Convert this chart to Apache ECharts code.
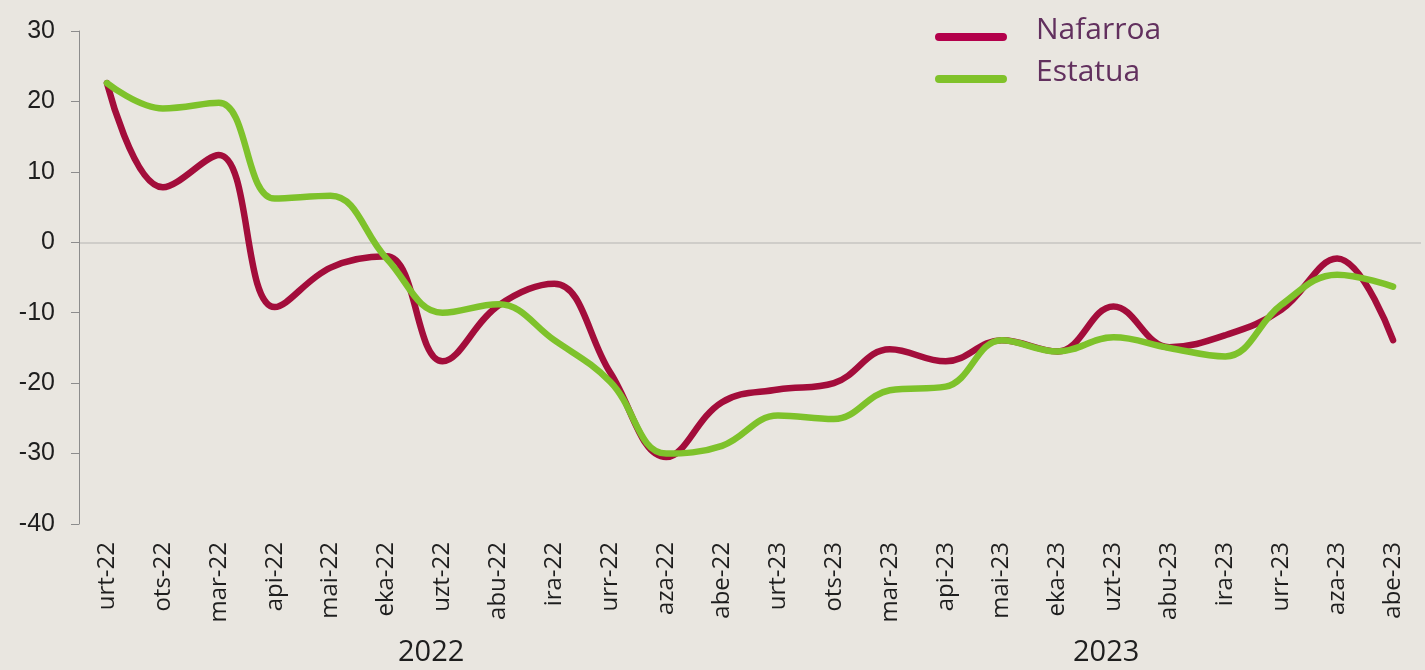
<!DOCTYPE html>
<html>
<head>
<meta charset="utf-8">
<script src="https://cdn.jsdelivr.net/npm/echarts@6/dist/echarts.min.js"></script>
<style>
  html, body { margin: 0; padding: 0; background: #e9e6e0; }
  #chart { width: 1425px; height: 670px; }
</style>
</head>
<body>
<div id="chart"></div>
<script>
// hilabeteak
const months = [
  'urt-22', 'ots-22', 'mar-22', 'api-22', 'mai-22', 'eka-22',
  'uzt-22', 'abu-22', 'ira-22', 'urr-22', 'aza-22', 'abe-22',
  'urt-23', 'ots-23', 'mar-23', 'api-23', 'mai-23', 'eka-23',
  'uzt-23', 'abu-23', 'ira-23', 'urr-23', 'aza-23', 'abe-23'
]
const years = ['2022', '2023']

const nafarroa = [
  22.6, 7.8, 12.4, -9.2, -3.6, -2.0,
  -16.9, -9.0, -5.9, -18.5, -30.5, -22.7,
  -20.9, -20.0, -15.2, -16.9, -13.9, -15.5,
  -9.1, -14.9, -13.2, -9.6, -2.3, -13.9
]
const estatua = [
  22.6, 19.0, 19.8, 6.2, 6.6, -2.3,
  -10.0, -8.8, -13.9, -19.8, -30.0, -28.9,
  -24.6, -25.1, -21.0, -20.5, -13.9, -15.5,
  -13.5, -15.0, -16.2, -8.9, -4.6, -6.3
]

const COLORS = {
  red: '#a30d3b',
  green: '#7ec22b',
  legendRed: '#b3004b',
  legendGreen: '#80c22a',
  axis: '#8c8c8c',
  text: '#1e1e1e',
  legendText: '#62305e',
  zero: '#cfcdc9',
  background: '#e9e6e0',
}

const chart = echarts.init(document.getElementById('chart'), null, { renderer: 'canvas' })

// splitLine only drawn at 0 (ticks: -40..30)
const clear = 'rgba(0,0,0,0)'
const splitColors = [clear, clear, clear, clear, COLORS.zero, clear, clear, clear]

// rounded bar sitting in the lower part of the icon box, so the label ends up a bit higher
const legendIcon = 'path://M0,0 L72,0 Z M4,14 H68 A4,4 0 0 1 68,22 H4 A4,4 0 0 1 4,14 Z'

chart.setOption({
  animation: false,
  backgroundColor: COLORS.background,
  grid: {
    left: 79,
    top: 31,
    width: 1342,
    height: 493,
  },
  legend: {
    orient: 'vertical',
    left: 935,
    top: 15,
    padding: 0,
    itemWidth: 72,
    itemHeight: 22,
    itemGap: 12,
    icon: legendIcon,
    itemStyle: { borderWidth: 0 },
    textStyle: {
      fontFamily: 'Open Sans',
      fontSize: 30,
      color: COLORS.legendText,
      lineHeight: 30,
      padding: [0, 0, 0, 24],
    },
    data: [
      { name: 'Nafarroa', itemStyle: { color: COLORS.legendRed } },
      { name: 'Estatua', itemStyle: { color: COLORS.legendGreen } },
    ],
  },
  xAxis: {
    type: 'category',
    data: months,
    boundaryGap: true,
    axisLine: { show: false },
    axisTick: { show: false },
    axisLabel: {
      rotate: 90,
      margin: 18,
      interval: 0,
      fontFamily: 'Open Sans',
      fontSize: 24,
      color: COLORS.text,
    },
    splitLine: { show: false },
  },
  yAxis: {
    type: 'value',
    min: -40,
    max: 30,
    interval: 10,
    axisLine: { show: true, lineStyle: { color: COLORS.axis, width: 1 } },
    axisTick: { show: true, length: 8, lineStyle: { color: COLORS.axis } },
    axisLabel: {
      margin: 24,
      fontFamily: 'Liberation Sans',
      fontSize: 25,
      color: COLORS.text,
    },
    splitLine: { show: true, lineStyle: { color: splitColors, width: 2 } },
  },
  graphic: [
    {
      type: 'text',
      left: 398,
      top: 638,
      style: { text: years[0], font: '29px "Open Sans"', fill: COLORS.text },
    },
    {
      type: 'text',
      left: 1073,
      top: 638,
      style: { text: years[1], font: '29px "Open Sans"', fill: COLORS.text },
    },
  ],
  series: [
    {
      name: 'Nafarroa',
      type: 'line',
      data: nafarroa,
      smooth: 0.4,
      symbol: 'none',
      lineStyle: { color: COLORS.red, width: 6.5, cap: 'round', join: 'round' },
      itemStyle: { color: COLORS.red },
      z: 2,
    },
    {
      name: 'Estatua',
      type: 'line',
      data: estatua,
      smooth: 0.4,
      symbol: 'none',
      lineStyle: { color: COLORS.green, width: 6.5, cap: 'round', join: 'round' },
      itemStyle: { color: COLORS.green },
      z: 3,
    },
  ],
})
</script>
</body>
</html>
